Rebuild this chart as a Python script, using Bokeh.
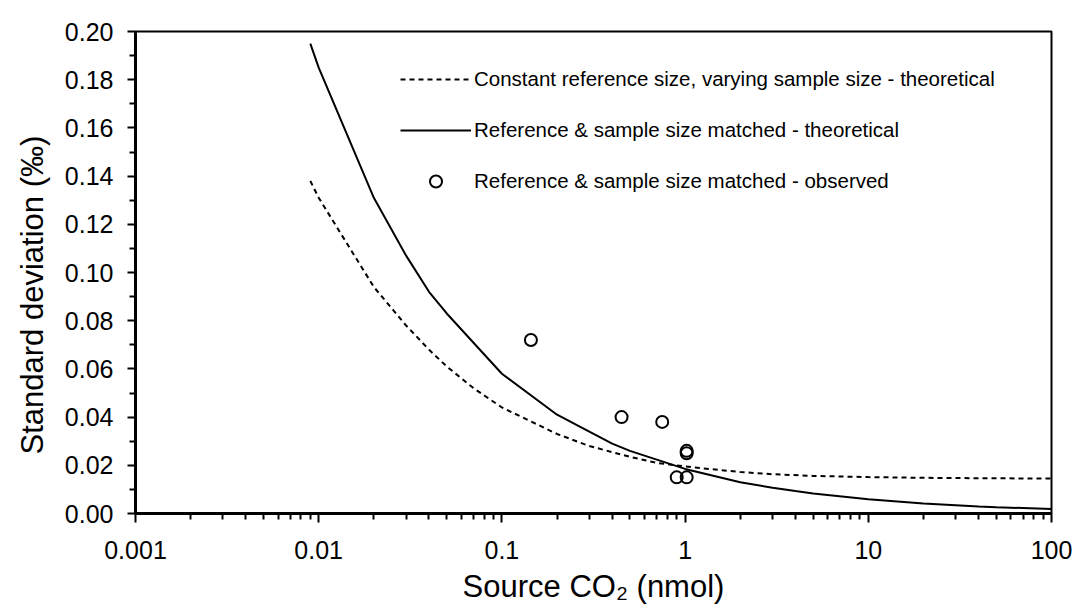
from bokeh.plotting import figure
from bokeh.models import (FixedTicker, CustomJSTickFormatter, PrintfTickFormatter,
                          Legend, LegendItem, Range1d, Title)
from bokeh.embed import file_html
from bokeh.resources import INLINE

# ---- data ----
const_ref_x = [0.009, 0.01, 0.02, 0.03, 0.04, 0.05, 0.07, 0.1, 0.2, 0.3, 0.5, 0.7,
               1, 2, 3, 5, 10, 20, 50, 100]
const_ref_y = [0.138, 0.131, 0.094, 0.078, 0.068, 0.061, 0.052, 0.044, 0.033, 0.028,
               0.0235, 0.021, 0.0195, 0.0172, 0.0163, 0.0156, 0.0151, 0.0148, 0.0146, 0.0145]

matched_x = [0.009, 0.01, 0.02, 0.03, 0.04, 0.05, 0.1, 0.2, 0.3, 0.4, 0.5, 1,
             2, 3, 4, 5, 10, 20, 30, 40, 50, 100]
matched_y = [0.195, 0.185, 0.131, 0.107, 0.092, 0.083, 0.058, 0.041, 0.034, 0.029,
             0.026, 0.0185, 0.013, 0.0107, 0.0093, 0.0083, 0.0059, 0.0041, 0.0034,
             0.0029, 0.0026, 0.0019]

observed_x = [0.144, 0.45, 0.75, 1.02, 1.02, 0.90, 1.02]
observed_y = [0.072, 0.040, 0.038, 0.026, 0.025, 0.015, 0.015]

x_major = [0.001, 0.01, 0.1, 1, 10, 100]
y_major = [0.00, 0.02, 0.04, 0.06, 0.08, 0.10, 0.12, 0.14, 0.16, 0.18, 0.20]
y_minor = [0.01, 0.03, 0.05, 0.07, 0.09, 0.11, 0.13, 0.15, 0.17, 0.19]

labels = ["Constant reference size, varying sample size - theoretical",
          "Reference & sample size matched - theoretical",
          "Reference & sample size matched - observed"]
x_title = "Source CO\u2082 (nmol)"
y_title = "Standard deviation (\u2030)"

FONT = "Liberation Sans"

p = figure(width=1077, height=610, x_axis_type="log",
           x_range=Range1d(0.001, 100), y_range=Range1d(0, 0.2),
           output_backend="svg", toolbar_location=None,
           min_border_left=134, min_border_right=26,
           min_border_top=31, min_border_bottom=97)
p.background_fill_color = "white"
p.border_fill_color = "white"
p.grid.visible = False
p.outline_line_color = "black"
p.outline_line_width = 2

r_dash = p.line(const_ref_x, const_ref_y, line_color="black", line_width=2,
                line_dash="5 4")
r_solid = p.line(matched_x, matched_y, line_color="black", line_width=2)
r_obs = p.scatter(observed_x, observed_y, marker="circle", size=12,
                  line_color="black", line_width=2, fill_alpha=0)

# axes
x_minor = [m * d for d in x_major[:-1] for m in range(2, 10)]
p.xaxis.ticker = FixedTicker(ticks=x_major, minor_ticks=x_minor)
p.xaxis.formatter = CustomJSTickFormatter(code="return String(+tick.toPrecision(6));")
p.yaxis.ticker = FixedTicker(ticks=y_major, minor_ticks=y_minor)
p.yaxis.formatter = PrintfTickFormatter(format="%.2f")

for ax in (p.xaxis[0], p.yaxis[0]):
    ax.axis_line_width = 3
    ax.axis_line_color = "black"
    ax.major_tick_line_width = 2
    ax.minor_tick_line_width = 2
    ax.major_tick_in = 0
    ax.minor_tick_in = 0
    ax.major_label_text_font = FONT
    ax.major_label_text_font_size = "25px"
    ax.major_label_text_color = "black"

p.xaxis.major_tick_out = 9
p.xaxis.minor_tick_out = 6
p.yaxis.major_tick_out = 8
p.yaxis.minor_tick_out = 6
p.xaxis.major_label_standoff = 18
p.yaxis.major_label_standoff = 14

p.xaxis.axis_label = x_title
p.xaxis.axis_label_text_font = FONT
p.xaxis.axis_label_text_font_style = "normal"
p.xaxis.axis_label_text_font_size = "31px"
p.xaxis.axis_label_text_color = "black"
p.xaxis.axis_label_standoff = 7

# y title as a side-panel title so it can be shifted along the axis
yt = Title(text=y_title, align="left", offset=59, text_font=FONT,
           text_font_size="31px", text_font_style="normal", text_color="black")
if "standoff" in Title.properties():
    yt.standoff = 24
p.add_layout(yt, "left")

legend = Legend(items=[LegendItem(label=labels[0], renderers=[r_dash]),
                       LegendItem(label=labels[1], renderers=[r_solid]),
                       LegendItem(label=labels[2], renderers=[r_obs])],
                location=(265, 317))
legend.border_line_color = None
legend.background_fill_alpha = 0
legend.padding = 0
legend.margin = 0
legend.glyph_width = 71
legend.glyph_height = 30
legend.label_height = 30
legend.spacing = 21
legend.label_standoff = 3
legend.label_text_font = FONT
legend.label_text_font_size = "20.5px"
legend.label_text_color = "black"
p.add_layout(legend)

open("out.html", "w").write(file_html(p, INLINE))
